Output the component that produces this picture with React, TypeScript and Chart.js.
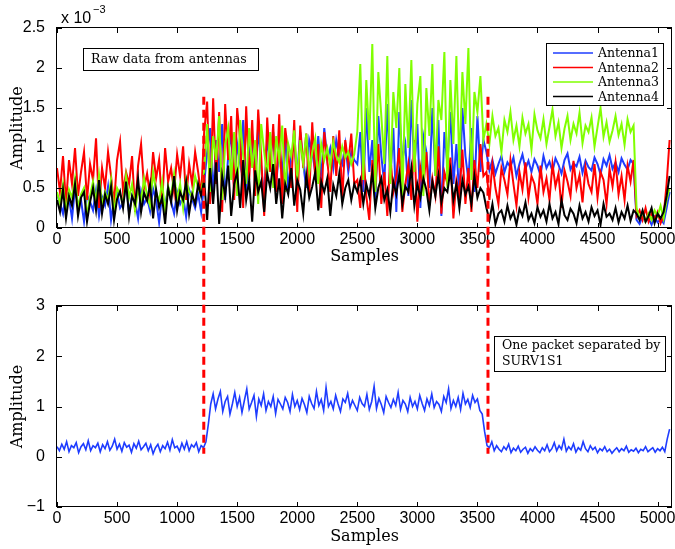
import React, { useEffect, useRef } from "react";
import { Chart, registerables } from "chart.js";

Chart.register(...registerables);

// ---- axes / ticks ----
const X_MAX = 5120;
const X_TICKS = [0, 500, 1000, 1500, 2000, 2500, 3000, 3500, 4000, 4500, 5000];
const RAW_Y_TICKS = [0, 0.5, 1, 1.5, 2, 2.5];
const PACKET_Y_TICKS = [-1, 0, 1, 2, 3];
const RAW_SAMPLE_STEP = 25; // samples between stored raw points
const PACKET_SAMPLE_STEP = 20; // samples between stored packet points

// packet boundaries (samples) and dashed marker extents
const PACKET_START = 1222;
const PACKET_END = 3588;
const DASH_TOP_VALUE = 1.64; // x10^-3, upper plot
const DASH_BOTTOM_VALUE = 0.06; // lower plot

// ---- raw antenna amplitudes (x10^-3), one value every 25 samples ----
const antenna1 = [
  0.42, 0.31, 0.18, 0.45, 0.38, 0.12, 0.50, 0.29, 0.35, 0.08,
  0.41, 0.33, 0.22, 0.47, 0.15, 0.39, 0.28, 0.52, 0.10, 0.36,
  0.44, 0.25, 0.31, 0.55, 0.19, 0.40, 0.33, 0.12, 0.46, 0.30,
  0.38, 0.21, 0.49, 0.35, 0.07, 0.42, 0.27, 0.51, 0.33, 0.18,
  0.45, 0.30, 0.39, 0.14, 0.48, 0.36, 0.25, 0.43, 0.20,
  0.55, 0.95, 1.25, 0.40, 1.10, 0.70, 1.30, 0.35, 0.90, 1.20,
  0.50, 1.05, 0.80, 1.35, 0.45, 0.95, 1.15, 0.60, 1.25, 0.75,
  0.40, 1.10, 0.85, 1.20, 0.55, 1.00, 0.70, 1.15, 0.45, 0.90,
  1.05, 0.65, 1.20, 0.80, 0.50, 1.10, 0.95, 0.70, 1.15, 0.60,
  1.25, 0.85, 1.00, 0.75, 1.10, 0.90, 0.80, 1.05, 0.70, 0.95,
  0.85,
  0.80, 1.20, 0.45, 1.50, 0.70, 1.10, 0.30, 1.40, 0.90, 0.55,
  1.55, 0.60, 1.25, 0.20, 1.45, 0.85, 1.05, 0.40, 1.60, 0.75,
  1.30, 0.25, 1.15, 0.95, 0.50, 1.50, 0.65, 1.35, 0.15, 1.20,
  0.80, 1.45, 0.55, 1.05, 0.35, 1.50, 0.90, 0.60, 1.25, 0.45,
  1.40, 0.70, 1.10,
  0.95, 0.72, 0.85, 0.68, 0.80, 0.90, 0.70, 0.82, 0.76, 0.88,
  0.65, 0.80, 0.92, 0.74, 0.84, 0.70, 0.86, 0.78, 0.66, 0.90,
  0.75, 0.83, 0.71, 0.87, 0.79, 0.68, 0.85, 0.93, 0.73, 0.81,
  0.77, 0.89, 0.69, 0.84, 0.76, 0.72, 0.88, 0.80, 0.67, 0.86,
  0.78, 0.91, 0.74, 0.82, 0.70, 0.87, 0.79, 0.73, 0.85, 0.80,
  0.10, 0.05, 0.15, 0.08, 0.12, 0.04, 0.14, 0.07, 0.11, 0.06, 0.25, 0.45,
];

const antenna2 = [
  0.75, 0.45, 0.90, 0.30, 0.85, 0.55, 1.00, 0.40, 0.70, 0.95,
  0.35, 0.80, 0.60, 1.12, 0.25, 0.75, 0.50, 0.95, 0.65, 0.30,
  0.85, 1.08, 0.45, 0.70, 0.55, 0.90, 0.20, 0.78, 1.05, 0.50,
  0.68, 0.40, 0.95, 0.62, 0.85, 0.30, 1.00, 0.58, 0.75, 0.45,
  0.92, 0.65, 1.02, 0.35, 0.80, 0.55, 0.95, 0.70, 0.40,
  1.20, 1.58, 0.30, 1.62, 0.55, 1.45, 0.20, 1.55, 0.85, 1.40,
  0.35, 1.50, 1.10, 0.25, 1.52, 0.60, 1.35, 0.40, 1.48, 0.90,
  0.15, 1.38, 0.70, 1.30, 0.45, 1.42, 0.30, 1.25, 0.95, 0.50,
  1.35, 0.20, 1.28, 0.75, 1.18, 0.40, 1.32, 0.60, 1.05, 0.25,
  1.20, 0.85, 0.45, 1.15, 0.65, 1.22, 0.35, 1.10, 0.80, 1.18,
  0.55,
  0.60, 0.25, 0.95, 0.40, 0.10, 0.85, 0.50, 1.05, 0.30, 0.70,
  0.15, 0.90, 0.45, 0.65, 1.00, 0.20, 0.55, 0.80, 0.35, 1.10,
  0.08, 0.75, 0.50, 0.95, 0.28, 0.62, 0.40, 1.02, 0.18, 0.70,
  0.55, 0.88, 0.12, 0.60, 0.42, 0.98, 0.30, 0.75, 0.20, 0.85,
  0.50, 1.05, 0.65,
  0.70, 0.35, 0.80, 0.50, 0.30, 0.75, 0.60, 0.42, 0.85, 0.55,
  0.28, 0.70, 0.48, 0.82, 0.38, 0.65, 0.55, 0.30, 0.78, 0.45,
  0.62, 0.35, 0.80, 0.52, 0.68, 0.25, 0.72, 0.58, 0.40, 0.84,
  0.50, 0.66, 0.32, 0.76, 0.55, 0.45, 0.80, 0.38, 0.70, 0.60,
  0.30, 0.74, 0.52, 0.82, 0.42, 0.65, 0.35, 0.78, 0.58, 0.85,
  0.15, 0.22, 0.10, 0.25, 0.08, 0.18, 0.12, 0.20, 0.06, 0.15, 0.55, 1.10,
];

const antenna3 = [
  0.45, 0.30, 0.55, 0.20, 0.48, 0.38, 0.62, 0.25, 0.42, 0.50,
  0.15, 0.40, 0.58, 0.32, 0.66, 0.28, 0.45, 0.35, 0.60, 0.18,
  0.50, 0.42, 0.30, 0.65, 0.38, 0.55, 0.22, 0.48, 0.35, 0.62,
  0.40, 0.28, 0.70, 0.45, 0.33, 0.58, 0.20, 0.52, 0.40, 0.68,
  0.35, 0.55, 0.25, 0.60, 0.45, 0.38, 0.65, 0.50, 0.42,
  0.70, 1.30, 0.45, 1.15, 0.85, 1.40, 0.35, 1.05, 1.25, 0.60,
  1.20, 0.40, 1.35, 0.90, 0.55, 1.25, 0.75, 1.10, 0.30, 1.30,
  0.95, 0.65, 1.20, 0.50, 1.15, 0.85, 1.28, 0.45, 1.05, 0.90,
  1.22, 0.60, 1.10, 0.80, 1.18, 0.70, 0.95, 1.12, 0.55, 1.05,
  0.85, 1.00, 0.78, 1.08, 0.90, 0.82, 1.02, 0.88, 0.95, 0.80,
  0.92,
  1.20, 2.05, 0.60, 1.85, 1.10, 2.30, 0.45, 1.95, 1.40, 0.80,
  2.15, 0.55, 1.70, 1.25, 2.00, 0.35, 1.80, 1.00, 2.10, 0.70,
  1.55, 1.90, 0.40, 1.75, 1.15, 2.05, 0.65, 1.60, 1.35, 2.20,
  0.50, 1.85, 1.05, 2.15, 0.75, 1.95, 1.30, 2.25, 0.60, 1.70,
  1.45, 1.90, 1.10,
  1.30, 1.05, 1.40, 1.15, 1.25, 0.95, 1.35, 1.20, 1.45, 1.10,
  1.28, 1.02, 1.38, 1.18, 1.30, 0.98, 1.42, 1.22, 1.12, 1.36,
  1.05, 1.26, 1.48, 1.15, 1.32, 1.00, 1.24, 1.40, 1.10, 1.30,
  1.18, 1.44, 1.06, 1.28, 1.20, 1.38, 1.02, 1.26, 1.50, 1.14,
  1.32, 1.08, 1.22, 1.40, 1.16, 1.30, 1.04, 1.36, 1.20, 1.28,
  0.25, 0.12, 0.20, 0.08, 0.18, 0.10, 0.22, 0.15, 0.28, 0.12, 0.35, 0.50,
];

const antenna4 = [
  0.35, 0.20, 0.48, 0.12, 0.40, 0.28, 0.55, 0.15, 0.38, 0.45,
  0.08, 0.32, 0.50, 0.22, 0.60, 0.18, 0.42, 0.30, 0.52, 0.10,
  0.36, 0.46, 0.25, 0.58, 0.14, 0.40, 0.30, 0.62, 0.20, 0.44,
  0.34, 0.55, 0.12, 0.48, 0.26, 0.38, 0.05, 0.50, 0.32, 0.65,
  0.22, 0.45, 0.35, 0.58, 0.18, 0.42, 0.30, 0.55, 0.40,
  0.60, 0.10, 0.75, 0.30, 0.82, 0.05, 0.65, 0.40, 0.78, 0.15,
  0.55, 0.70, 0.25, 0.85, 0.35, 0.60, 0.08, 0.72, 0.45, 0.58,
  0.20, 0.68, 0.50, 0.80, 0.30, 0.62, 0.12, 0.55, 0.42, 0.75,
  0.28, 0.60, 0.48, 0.18, 0.66, 0.38, 0.52, 0.70, 0.22, 0.58,
  0.45, 0.62, 0.15, 0.54, 0.40, 0.68, 0.30, 0.50, 0.60, 0.35,
  0.55,
  0.45, 0.60, 0.30, 0.55, 0.40, 0.70, 0.25, 0.50, 0.62, 0.35,
  0.48, 0.20, 0.58, 0.42, 0.68, 0.30, 0.52, 0.45, 0.75, 0.28,
  0.55, 0.38, 0.62, 0.48, 0.22, 0.58, 0.40, 0.66, 0.32, 0.50,
  0.45, 0.72, 0.35, 0.55, 0.25, 0.60, 0.42, 0.52, 0.30, 0.65,
  0.38, 0.50, 0.44,
  0.25, 0.10, 0.30, 0.05, 0.18, 0.22, 0.08, 0.28, 0.12, 0.20,
  0.04, 0.24, 0.15, 0.32, 0.10, 0.18, 0.06, 0.26, 0.14, 0.22,
  0.08, 0.30, 0.12, 0.20, 0.05, 0.35, 0.16, 0.10, 0.24, 0.18,
  0.06, 0.28, 0.12, 0.20, 0.08, 0.26, 0.15, 0.22, 0.04, 0.30,
  0.14, 0.18, 0.10, 0.25, 0.07, 0.20, 0.12, 0.28, 0.09, 0.22,
  0.18, 0.10, 0.22, 0.08, 0.15, 0.25, 0.06, 0.18, 0.12, 0.20, 0.40, 0.65,
];

// ---- separated packet amplitude, one value every 20 samples ----
const packet = [
  0.20, 0.12, 0.25, 0.15, 0.30, 0.10, 0.22, 0.18, 0.28, 0.08,
  0.20, 0.26, 0.14, 0.32, 0.12, 0.22, 0.18, 0.27, 0.10, 0.24,
  0.16, 0.30, 0.13, 0.21, 0.35, 0.15, 0.25, 0.11, 0.28, 0.19,
  0.23, 0.09, 0.26, 0.17, 0.31, 0.14, 0.20, 0.27, 0.12, 0.24,
  0.06, 0.18, 0.25, 0.10, 0.22, 0.16, 0.29, 0.13, 0.34, 0.18,
  0.21, 0.11, 0.27, 0.15, 0.30, 0.12, 0.24, 0.19, 0.28, 0.10,
  0.22,
  0.18, 0.30, 0.65, 1.05,
  1.25, 0.95, 1.15, 1.30, 0.90, 1.10, 1.20, 0.85, 1.05, 1.28,
  1.00, 1.18, 0.88, 1.12, 1.35, 0.95, 1.08, 1.22, 0.80, 1.15,
  1.02, 1.25, 0.92, 1.10, 1.00, 1.20, 0.86, 1.14, 1.05, 0.95,
  1.18, 1.08, 0.90, 1.24, 1.00, 1.12, 0.94, 1.16, 1.04, 0.88,
  1.20, 1.06, 0.96, 1.30, 1.02, 1.14, 0.92, 1.38, 1.00, 1.10,
  0.95, 1.22, 1.05, 0.90, 1.15, 1.08, 1.26, 0.98, 1.12, 1.02,
  0.92, 1.18, 1.06, 1.00, 1.24, 0.94, 1.10, 1.40, 0.96, 1.16,
  1.04, 0.88, 1.20, 1.08, 0.98, 1.14, 1.02, 1.28, 0.94, 1.12,
  1.05, 0.90, 1.18, 1.00, 1.10, 0.95, 1.22, 1.06, 0.92, 1.15,
  1.02, 1.25, 0.98, 1.10, 1.04, 0.90, 1.20, 1.08, 1.35, 0.96,
  1.12, 1.00, 1.18, 0.94, 1.26, 1.05, 1.14, 0.98, 1.22, 1.08,
  1.15, 0.92,
  0.85, 0.50, 0.22,
  0.18, 0.30, 0.12, 0.22, 0.15, 0.10, 0.20, 0.14, 0.25, 0.08,
  0.17, 0.12, 0.21, 0.09, 0.15, 0.19, 0.07, 0.16, 0.11, 0.20,
  0.13, 0.08, 0.18, 0.12, 0.24, 0.10, 0.16, 0.28, 0.12, 0.22,
  0.15, 0.35, 0.11, 0.20, 0.14, 0.26, 0.09, 0.18, 0.13, 0.30,
  0.16, 0.10, 0.22, 0.14, 0.19, 0.08, 0.16, 0.12, 0.20, 0.10,
  0.15, 0.07, 0.13, 0.18, 0.10, 0.16, 0.12, 0.21, 0.09, 0.14,
  0.11, 0.17, 0.08, 0.15, 0.12, 0.20, 0.10, 0.14, 0.18, 0.09,
  0.16, 0.12, 0.19, 0.10,
  0.35, 0.55,
];

const SERIES_LABELS = ["Antenna1", "Antenna2", "Antenna3", "Antenna4"];
const SERIES_COLORS = ["rgb(30,60,255)", "rgb(255,0,0)", "rgb(128,255,0)", "rgb(0,0,0)"];

const TICK_FONT = { family: "'Liberation Sans', Arial, sans-serif", size: 16 };
const TITLE_FONT = { family: "'DejaVu Serif', serif", size: 16 };
const NOTE_FONT = "12.5px 'DejaVu Serif', serif";
const LEGEND_FONT = "12.5px 'DejaVu Serif', serif";
const DASH = [8, 5];

const shared = { topDashLen: 0 };

function toPoints(values: number[], step: number) {
  return values.map((v, i) => ({ x: i * step, y: v }));
}

function fmt(v: number) {
  return String(v).replace("-", "\u2212");
}

const frameTicks = {
  id: "frameTicks",
  afterDatasetsDraw(chart: any) {
    const { ctx, chartArea: a, scales } = chart;
    const L = 5;
    ctx.save();
    ctx.strokeStyle = "#000";
    ctx.lineWidth = 1;
    ctx.beginPath();
    scales.x.ticks.forEach((t: any) => {
      const px = Math.round(scales.x.getPixelForValue(t.value)) + 0.5;
      ctx.moveTo(px, a.bottom);
      ctx.lineTo(px, a.bottom - L);
      ctx.moveTo(px, a.top);
      ctx.lineTo(px, a.top + L);
    });
    scales.y.ticks.forEach((t: any) => {
      const py = Math.round(scales.y.getPixelForValue(t.value)) + 0.5;
      ctx.moveTo(a.left, py);
      ctx.lineTo(a.left + L, py);
      ctx.moveTo(a.right, py);
      ctx.lineTo(a.right - L, py);
    });
    ctx.stroke();
    ctx.strokeRect(Math.round(a.left) - 0.5, Math.round(a.top) - 0.5, Math.round(a.right - a.left), Math.round(a.bottom - a.top));
    ctx.restore();
  },
};

function drawNote(ctx: CanvasRenderingContext2D, x: number, y: number, w: number, h: number, lines: string[], tx: number, ty: number, lh: number) {
  ctx.save();
  ctx.fillStyle = "#fff";
  ctx.fillRect(x, y, w, h);
  ctx.strokeStyle = "#000";
  ctx.lineWidth = 1;
  ctx.strokeRect(Math.round(x) + 0.5, Math.round(y) + 0.5, w, h);
  ctx.fillStyle = "#000";
  ctx.font = NOTE_FONT;
  ctx.textBaseline = "middle";
  ctx.textAlign = "left";
  lines.forEach((s, i) => ctx.fillText(s, tx, ty + i * lh));
  ctx.restore();
}

const rawExtras = {
  id: "rawExtras",
  afterDraw(chart: any) {
    const { ctx, chartArea: a, scales } = chart;
    // dashed packet markers (down to the bottom of this canvas)
    ctx.save();
    ctx.strokeStyle = "rgb(255,0,0)";
    ctx.lineWidth = 3;
    ctx.setLineDash(DASH);
    const yTop = scales.y.getPixelForValue(DASH_TOP_VALUE);
    [PACKET_START, PACKET_END].forEach((s) => {
      const px = scales.x.getPixelForValue(s);
      ctx.beginPath();
      ctx.moveTo(px, yTop);
      ctx.lineTo(px, chart.height);
      ctx.stroke();
    });
    shared.topDashLen = chart.height - yTop;
    ctx.restore();

    // exponent label
    ctx.save();
    ctx.fillStyle = "#000";
    ctx.textBaseline = "alphabetic";
    ctx.font = "16px 'Liberation Sans', Arial, sans-serif";
    ctx.fillText("x 10", a.left + 4, a.top - 5);
    ctx.font = "11px 'Liberation Sans', Arial, sans-serif";
    ctx.fillText("\u22123", a.left + 36, a.top - 15);
    ctx.restore();

    // note box
    drawNote(ctx, a.left + 26, a.top + 20, 175, 22, ["Raw data from antennas"], a.left + 34, a.top + 31.5, 0);

    // legend
    const w = 117, h = 62;
    const lx = a.right - 9 - w, ly = a.top + 15;
    ctx.save();
    ctx.fillStyle = "#fff";
    ctx.fillRect(lx, ly, w, h);
    ctx.strokeStyle = "#000";
    ctx.lineWidth = 1;
    ctx.strokeRect(Math.round(lx) + 0.5, Math.round(ly) + 0.5, w, h);
    ctx.font = LEGEND_FONT;
    ctx.textBaseline = "middle";
    chart.data.datasets.forEach((ds: any, i: number) => {
      const cy = ly + 10 + i * 14.5;
      ctx.strokeStyle = ds.borderColor;
      ctx.lineWidth = 1.5;
      ctx.beginPath();
      ctx.moveTo(lx + 7, cy);
      ctx.lineTo(lx + 47, cy);
      ctx.stroke();
      ctx.fillStyle = "#000";
      ctx.fillText(ds.label, lx + 52, cy + 1);
    });
    ctx.restore();
  },
};

const packetExtras = {
  id: "packetExtras",
  afterDraw(chart: any) {
    const { ctx, chartArea: a, scales } = chart;
    ctx.save();
    ctx.strokeStyle = "rgb(255,0,0)";
    ctx.lineWidth = 3;
    ctx.setLineDash(DASH);
    ctx.lineDashOffset = shared.topDashLen % (DASH[0] + DASH[1]);
    const yEnd = scales.y.getPixelForValue(DASH_BOTTOM_VALUE);
    [PACKET_START, PACKET_END].forEach((s) => {
      const px = scales.x.getPixelForValue(s);
      ctx.beginPath();
      ctx.moveTo(px, 0);
      ctx.lineTo(px, yEnd);
      ctx.stroke();
    });
    ctx.restore();
    drawNote(ctx, a.left + 437, a.top + 30, 171, 35, ["One packet separated by", "SURV1S1"], a.left + 445, a.top + 39.5, 16);
  },
};

function makeScales(yMin: number, yMax: number, yTicks: number[], xHeight: number, xTitlePadBottom: number) {
  return {
    x: {
      type: "linear",
      min: 0,
      max: X_MAX,
      grid: { display: false },
      border: { display: false },
      afterBuildTicks: (s: any) => {
        s.ticks = X_TICKS.map((v) => ({ value: v }));
      },
      ticks: { font: TICK_FONT, color: "#000", padding: -6, maxRotation: 0, autoSkip: false, callback: (v: any) => fmt(v) },
      title: { display: true, text: "Samples", font: TITLE_FONT, color: "#000", padding: { top: 0, bottom: xTitlePadBottom } },
      afterFit: (s: any) => {
        s.height = xHeight;
        s.paddingLeft = 0;
        s.paddingRight = 0;
      },
    },
    y: {
      type: "linear",
      min: yMin,
      max: yMax,
      grid: { display: false },
      border: { display: false },
      afterBuildTicks: (s: any) => {
        s.ticks = yTicks.map((v) => ({ value: v }));
      },
      ticks: { font: TICK_FONT, color: "#000", padding: 4, autoSkip: false, callback: (v: any) => fmt(v) },
      title: { display: true, text: "Amplitude", font: TITLE_FONT, color: "#000", padding: { top: 8, bottom: 0 } },
      afterFit: (s: any) => {
        s.width = 57;
        s.paddingTop = 0;
        s.paddingBottom = 0;
      },
    },
  };
}

export default function App() {
  const topRef = useRef<HTMLCanvasElement>(null);
  const botRef = useRef<HTMLCanvasElement>(null);

  useEffect(() => {
    const series = [antenna1, antenna2, antenna3, antenna4];
    const top = new Chart(topRef.current as HTMLCanvasElement, {
      type: "line",
      data: {
        datasets: series.map((vals, i) => ({
          label: SERIES_LABELS[i],
          data: toPoints(vals, RAW_SAMPLE_STEP),
          borderColor: SERIES_COLORS[i],
          backgroundColor: SERIES_COLORS[i],
          borderWidth: 2,
          pointRadius: 0,
          tension: 0,
          order: 4 - i,
        })),
      },
      options: {
        responsive: false,
        animation: false,
        devicePixelRatio: 1,
        layout: { padding: { top: 28, right: 3, left: 0, bottom: 0 } },
        plugins: { legend: { display: false }, tooltip: { enabled: false } },
        scales: makeScales(0, 2.5, RAW_Y_TICKS, 39, 1) as any,
      },
      plugins: [frameTicks, rawExtras],
    } as any);

    const bottom = new Chart(botRef.current as HTMLCanvasElement, {
      type: "line",
      data: {
        datasets: [
          {
            label: "SURV1S1 packet",
            data: toPoints(packet, PACKET_SAMPLE_STEP),
            borderColor: SERIES_COLORS[0],
            backgroundColor: SERIES_COLORS[0],
            borderWidth: 1.6,
            pointRadius: 0,
            tension: 0,
          },
        ],
      },
      options: {
        responsive: false,
        animation: false,
        devicePixelRatio: 1,
        layout: { padding: { top: 39, right: 3, left: 0, bottom: 0 } },
        plugins: { legend: { display: false }, tooltip: { enabled: false } },
        scales: makeScales(-1, 3, PACKET_Y_TICKS, 42, 3) as any,
      },
      plugins: [frameTicks, packetExtras],
    } as any);

    return () => {
      top.destroy();
      bottom.destroy();
    };
  }, []);

  return (
    <div style={{ position: "absolute", left: 0, top: 0, width: 675, height: 549, background: "#fff" }}>
      <canvas ref={topRef} width={675} height={267} style={{ display: "block", width: 675, height: 267 }} />
      <canvas ref={botRef} width={675} height={282} style={{ display: "block", width: 675, height: 282 }} />
    </div>
  );
}
